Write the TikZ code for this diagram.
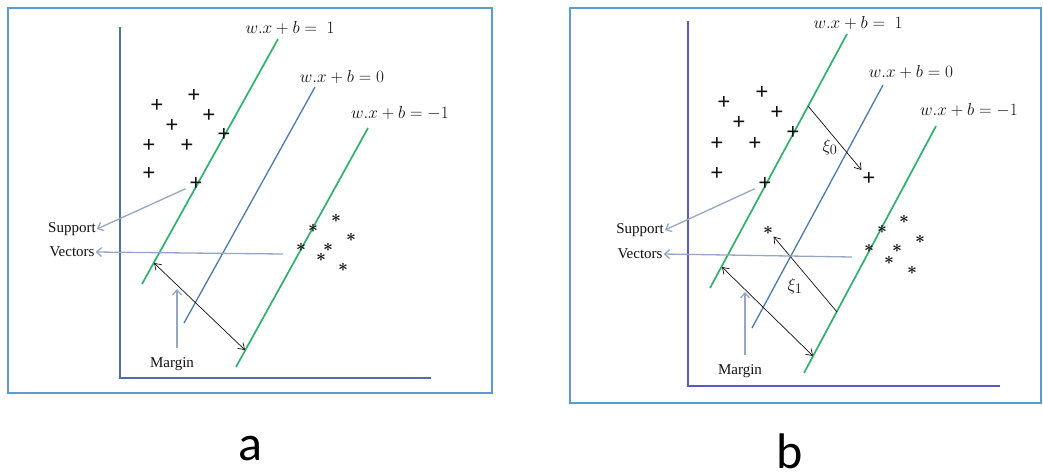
\documentclass[tikz,border=0pt]{standalone}
\usepackage{fontspec}
\setmainfont{Liberation Serif}
\newfontfamily\tagfont{Carlito}
\usepackage{tikz}
\usetikzlibrary{arrows.meta}
\definecolor{Black}{HTML}{111111}
\definecolor{FrameBlue}{HTML}{5B9BD5}
\definecolor{AxisBlue}{HTML}{4F6FA8}
\definecolor{AxisViolet}{HTML}{5A5AC0}
\definecolor{PlaneGreen}{HTML}{2DB36B}
\definecolor{PlaneBlue}{HTML}{4A7AB0}
\definecolor{PointerGray}{HTML}{95A6C2}

\begin{document}
\begin{tikzpicture}[x=1pt, y=-1pt,
  frame/.style={draw=FrameBlue, line width=2pt},
  axisline/.style={line width=2.6pt},
  plane/.style={draw=PlaneGreen, line width=1.7pt},
  hyper/.style={draw=PlaneBlue, line width=1.3pt},
  plusmark/.style={inner sep=0pt, font=\fontsize{23}{23}\selectfont\bfseries, text=Black},
  starmark/.style={inner sep=0pt, font=\fontsize{19}{19}\selectfont\boldmath, text=Black},
  eqn/.style={inner sep=1pt, font=\fontsize{16}{16}\selectfont, text=Black},
  note/.style={inner sep=1pt, font=\fontsize{15}{15}\selectfont, text=Black},
  pointer/.style={-{Straight Barb[length=5pt, width=9pt]}, draw=PointerGray, line width=1.3pt},
  marginarrow/.style={{Straight Barb[length=6pt, width=8pt]}-{Straight Barb[length=6pt, width=8pt]}, draw=Black, line width=0.7pt},
  slack/.style={-{Straight Barb[length=6pt, width=8pt]}, draw=Black, line width=0.7pt},
  paneltag/.style={inner sep=0pt, anchor=base, font=\tagfont\fontsize{50}{50}\selectfont}
]
\useasboundingbox (0,0) rectangle (1043,475);

% ---- panel a ----
\draw[frame] (8,8) rectangle (492,393);
\draw[axisline, AxisBlue] (120,27) -- (120,378) -- (431,378);
\coordinate (g1aB) at (142,284); \coordinate (g1aT) at (278,39);
\coordinate (h0aB) at (184,323); \coordinate (h0aT) at (315,87);
\coordinate (g2aB) at (236,367); \coordinate (g2aT) at (368,128);
\draw[plane] (g1aB) -- (g1aT);
\draw[hyper] (h0aB) -- (h0aT);
\draw[plane] (g2aB) -- (g2aT);
\node[eqn] (e1a) at (290,28) {$w.x+b=\;1$};
\node[eqn] (e0a) at (342,77) {$w.x+b=0$};
\node[eqn] (e2a) at (400,113) {$w.x+b=-1$};

\node[plusmark] (pa1) at (157,106) {+}; \node[plusmark] (pa2) at (194,96) {+};
\node[plusmark] (pa3) at (209,116) {+}; \node[plusmark] (pa4) at (172,126) {+};
\node[plusmark] (pa5) at (149,146) {+}; \node[plusmark] (pa6) at (187,146) {+};
\node[plusmark] (pa7) at (224,135) {+}; \node[plusmark] (pa8) at (149,174) {+};
\node[plusmark] (pa9) at (196,184) {+};
\node[starmark] (na1) at (336,218) {$\ast$}; \node[starmark] (na2) at (313,228) {$\ast$};
\node[starmark] (na3) at (351,237) {$\ast$}; \node[starmark] (na4) at (301,247) {$\ast$};
\node[starmark] (na5) at (328,247) {$\ast$}; \node[starmark] (na6) at (321,257) {$\ast$};
\node[starmark] (na7) at (343,267) {$\ast$};

\node[note] (supA) at (72,229) {Support};
\node[note] (vecA) at (72,252) {Vectors};
\coordinate (vtA) at (283,254);
\draw[pointer, shorten <=4pt] (pa9) -- (supA.east);
\draw[pointer] (vtA) -- (vecA.east);

\coordinate (m1a) at (154,263); \coordinate (m2a) at (245,350);
\draw[marginarrow] (m1a) -- (m2a);
\node[note] (marA) at (172,364) {Margin};
\coordinate (mpA) at (177,289);
\draw[pointer] (marA.north -| mpA) ++(0,-8) -- (mpA);

\node[paneltag] (tagA) at (250,460) {a};

% ---- panel b ----
\draw[frame] (570,8) rectangle (1041,403);
\draw[axisline, AxisViolet] (688,21) -- (688,386) -- (1000,386);
\coordinate (g1bB) at (710,288); \coordinate (g1bT) at (847,34);
\coordinate (h0bB) at (752,328); \coordinate (h0bT) at (883,85);
\coordinate (g2bB) at (804,373); \coordinate (g2bT) at (936,126);
\draw[plane] (g1bB) -- (g1bT);
\draw[hyper] (h0bB) -- (h0bT);
\draw[plane] (g2bB) -- (g2bT);
\node[eqn] (e1b) at (858,23) {$w.x+b=\;1$};
\node[eqn] (e0b) at (911,72) {$w.x+b=0$};
\node[eqn] (e2b) at (969,110) {$w.x+b=-1$};

\node[plusmark] (pb1) at (724,103) {+}; \node[plusmark] (pb2) at (762,93) {+};
\node[plusmark] (pb3) at (777,113) {+}; \node[plusmark] (pb4) at (739,123) {+};
\node[plusmark] (pb5) at (717,144) {+}; \node[plusmark] (pb6) at (755,144) {+};
\node[plusmark] (pb7) at (793,133) {+}; \node[plusmark] (pb8) at (717,174) {+};
\node[plusmark] (pb9) at (765,184) {+}; \node[plusmark] (pb10) at (869,179) {+};
\node[starmark] (nb1) at (904,219) {$\ast$}; \node[starmark] (nb2) at (882,229) {$\ast$};
\node[starmark] (nb3) at (920,239) {$\ast$}; \node[starmark] (nb4) at (869,248) {$\ast$};
\node[starmark] (nb5) at (897,248) {$\ast$}; \node[starmark] (nb6) at (889,260) {$\ast$};
\node[starmark] (nb7) at (912,270) {$\ast$}; \node[starmark] (nb8) at (768,230) {$\ast$};

\coordinate (x0b) at (808,106); \coordinate (x1b) at (837,312);
\draw[slack, shorten >=3pt] (x0b) -- (pb10);
\node[eqn, font=\fontsize{19}{19}\selectfont] (xi0) at (830,147) {$\xi_0$};
\draw[slack, shorten >=3pt] (x1b) -- (nb8);
\node[eqn, font=\fontsize{19}{19}\selectfont] (xi1) at (795,286) {$\xi_1$};

\node[note] (supB) at (640,230) {Support};
\node[note] (vecB) at (640,254) {Vectors};
\coordinate (vtB) at (852,257);
\draw[pointer, shorten <=4pt] (pb9) -- (supB.east);
\draw[pointer] (vtB) -- (vecB.east);

\coordinate (m1b) at (722,267); \coordinate (m2b) at (813,356);
\draw[marginarrow] (m1b) -- (m2b);
\node[note] (marB) at (740,371) {Margin};
\coordinate (mpB) at (745,292);
\draw[pointer] (marB.north -| mpB) ++(0,-8) -- (mpB);

\node[paneltag] (tagB) at (790,468) {b};
\end{tikzpicture}
\end{document}
